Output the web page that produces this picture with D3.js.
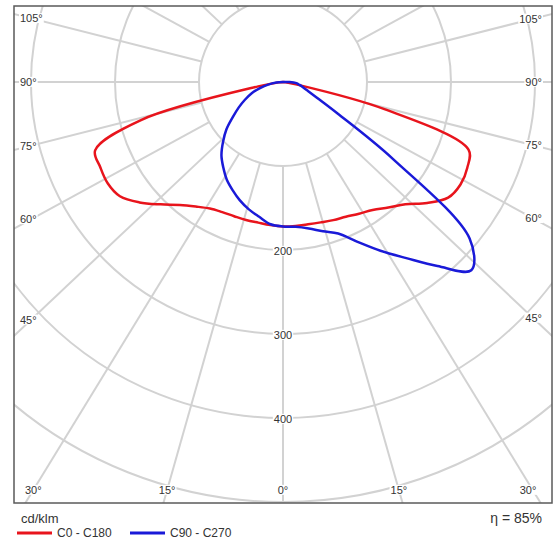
<!DOCTYPE html>
<html>
<head>
<meta charset="utf-8">
<script src="https://cdnjs.cloudflare.com/ajax/libs/d3/7.8.5/d3.min.js"></script>
<style>
body { margin: 0; background: #fff; }
text { font-family: "Liberation Sans", Arial, sans-serif; fill: #333; }
</style>
</head>
<body>
<div id="chart"></div>
<script>
var width = 558, height = 542

// gamma angles (deg from nadir) and intensities in cd/klm
var gammas = [0, 5, 10, 15, 20, 25, 30, 35, 40, 45, 50, 55, 60, 65, 70, 75, 80, 85, 90]
var c0   = [172, 172, 172, 173, 175, 177, 181, 186, 195, 206, 224, 240, 244, 242, 235, 125, 14, 3, 0]
var c180 = [173, 171, 170, 170, 170, 171, 174, 181, 191, 206, 223, 237, 241, 240, 238, 175, 30, 5, 0]
var c90  = [172, 173, 177, 184, 192, 210, 232, 256, 286, 317, 290, 160, 75, 45, 32, 25, 20, 16, 8]
var c270 = [172, 170, 163, 157, 150, 142, 134, 124, 114, 101, 88, 73, 61, 50, 40, 29, 18, 8, 0]

// grid
var rings = [100, 200, 300, 400, 500]
var ringLabels = [200, 300, 400]
var spokes = [0, 15, 30, 45, 60, 75, 90, 105, 120, 135, 150, 165]
var angleLabels = [0, 15, 30, 45, 60, 75, 90, 105]

var series = [
    {name: "C0 - C180", color: "#e8141c", right: c0, left: c180},
    {name: "C90 - C270", color: "#1a1ad8", right: c90, left: c270}
]
var eta = "η = 85%"

var frame = {x0: 14, y0: 6, x1: 552, y1: 503}
var cx = 283, cy = 82
var skew = 1.06   // spokes in the original lean slightly outward

var r = d3.scaleLinear().domain([0, 500]).range([0, 420])
var rad = function(d) { return d * Math.PI / 180 }

var svg = d3.select('#chart')
    .append("svg")
    .attr("width", width)
    .attr("height", height)

svg.append("defs").append("clipPath")
    .attr("id", "plotClip")
    .append("rect")
    .attr("x", frame.x0).attr("y", frame.y0)
    .attr("width", frame.x1 - frame.x0).attr("height", frame.y1 - frame.y0)

var grid = svg.append("g").attr("clip-path", "url(#plotClip)")

grid.selectAll("circle")
    .data(rings)
    .enter().append("circle")
    .attr("cx", cx).attr("cy", cy)
    .attr("r", function(d) { return r(d) })
    .attr("fill", "none")
    .attr("stroke", "#d2d2d2")
    .attr("stroke-width", 2)

function dir(deg, side) {
    var dx = skew * Math.sin(rad(deg)) * side, dy = Math.cos(rad(deg))
    var n = Math.sqrt(dx * dx + dy * dy)
    return [dx / n, dy / n]
}

var spokeData = []
spokes.forEach(function(a) {
    spokeData.push({a: a, side: 1})
    if (a > 0) spokeData.push({a: a, side: -1})
})

grid.selectAll("line.spoke")
    .data(spokeData)
    .enter().append("line")
    .attr("class", "spoke")
    .attr("x1", function(d) { return cx + dir(d.a, d.side)[0] * r(100) })
    .attr("y1", function(d) { return cy + dir(d.a, d.side)[1] * r(100) })
    .attr("x2", function(d) { return cx + dir(d.a, d.side)[0] * 900 })
    .attr("y2", function(d) { return cy + dir(d.a, d.side)[1] * 900 })
    .attr("stroke", "#d2d2d2")
    .attr("stroke-width", 2)

// labels with white patch behind
function addLabel(x, y, txt, anchor, size) {
    var g = svg.append("g")
    var bg = g.append("rect").attr("fill", "#fff")
    var t = g.append("text")
        .attr("x", x).attr("y", y)
        .attr("dy", "0.35em")
        .attr("text-anchor", anchor)
        .style("font-size", size + "px")
        .text(txt)
    var b = t.node().getBBox()
    bg.attr("x", b.x - 1).attr("y", b.y + 1).attr("width", b.width + 2).attr("height", b.height - 2)
}

angleLabels.forEach(function(a) {
    [-1, 1].forEach(function(side) {
        if (a == 0 && side < 0) return
        var d = dir(a, side)
        var tBottom = d[1] > 0 ? (frame.y1 - cy) / d[1] : Infinity
        var tSide = side < 0 ? (cx - frame.x0) / -d[0] : (frame.x1 - cx) / d[0]
        if (a == 0) tSide = Infinity
        if (tBottom < tSide) {
            var tx = cx + d[0] * (490 - cy) / d[1]
            tx = Math.max(32, Math.min(528, tx))
            addLabel(tx, 490, a + "°", "middle", 11)
        } else {
            var xs = side < 0 ? 31 : 533
            var ty = cy + d[1] * (xs - cx) / d[0]
            addLabel(side < 0 ? 20 : 542, ty, a + "°", side < 0 ? "start" : "end", 11)
        }
    })
})

ringLabels.forEach(function(v) {
    addLabel(cx, cy + r(v) + 1, v, "middle", 11)
})

// curves
var line = d3.lineRadial()
    .angle(function(d) { return d[0] })
    .radius(function(d) { return r(d[1]) })
    .curve(d3.curveCatmullRomClosed.alpha(0.5))

series.forEach(function(s) {
    var pts = gammas.map(function(g, i) { return [Math.PI - rad(g), s.right[i]] })
    for (var i = gammas.length - 1; i > 0; i--) {
        pts.push([Math.PI + rad(gammas[i]), s.left[i]])
    }
    svg.append("path")
        .attr("transform", "translate(" + cx + "," + cy + ")")
        .attr("d", line(pts))
        .attr("fill", "none")
        .attr("stroke", s.color)
        .attr("stroke-width", 2.5)
})

// frame
svg.append("rect")
    .attr("x", frame.x0).attr("y", frame.y0)
    .attr("width", frame.x1 - frame.x0).attr("height", frame.y1 - frame.y0)
    .attr("fill", "none")
    .attr("stroke", "#5a5a5a")
    .attr("stroke-width", 1.5)

// unit, legend, efficiency
svg.append("text")
    .attr("x", 21).attr("y", 523)
    .style("font-size", "13px")
    .text("cd/klm")

var legend = svg.selectAll("g.legend")
    .data(series)
    .enter().append("g")
    .attr("class", "legend")
    .attr("transform", function(d, i) { return "translate(" + (17 + i * 113) + ",533)" })
legend.append("line")
    .attr("x1", 0).attr("x2", 35)
    .attr("stroke", function(d) { return d.color })
    .attr("stroke-width", 3)
legend.append("text")
    .attr("x", 40).attr("dy", "0.35em")
    .style("font-size", "12px")
    .text(function(d) { return d.name })

svg.append("text")
    .attr("x", 542).attr("y", 523)
    .attr("text-anchor", "end")
    .style("font-size", "14px")
    .text(eta)
</script>
</body>
</html>
